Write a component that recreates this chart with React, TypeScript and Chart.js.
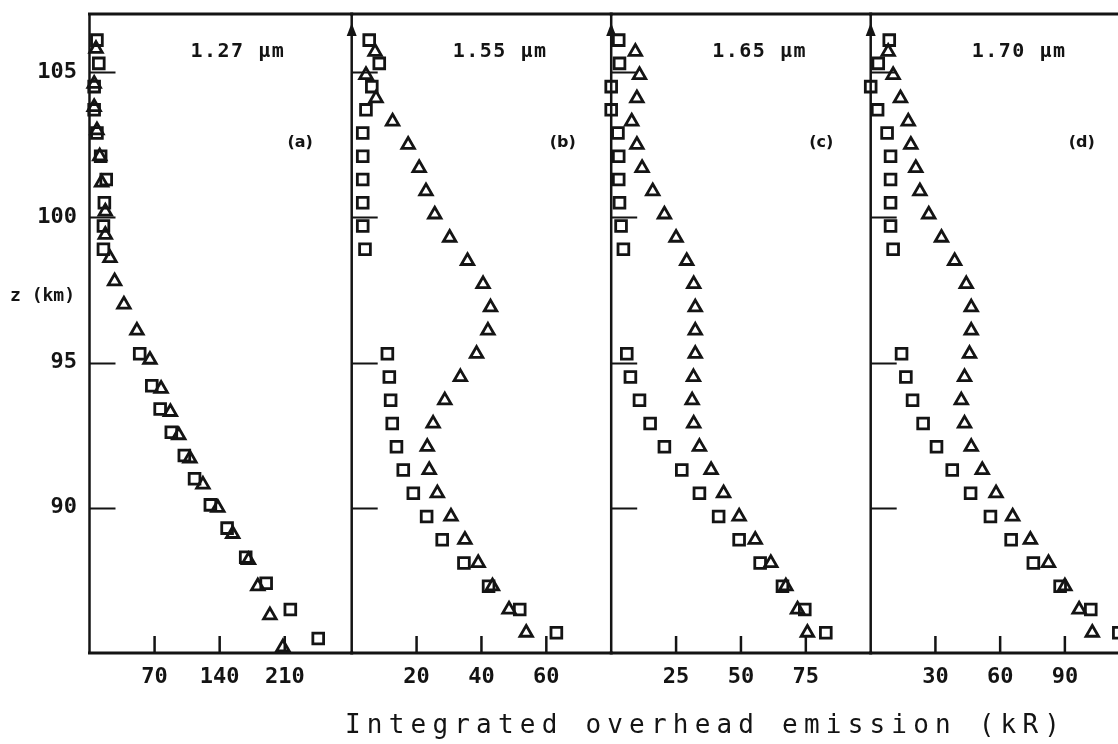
import React, { useEffect, useRef } from 'react';
import { Chart, registerables } from 'chart.js';

Chart.register(...registerables);

// ---------- data ----------
const panelNames = ['1.27 μm', '1.55 μm', '1.65 μm', '1.70 μm'];
const panelTags = ['(a)', '(b)', '(c)', '(d)'];
const yTickValues = [90, 95, 100, 105];
const xTickValuesA = [70, 140, 210];
const xTickValuesB = [20, 40, 60];
const xTickValuesC = [25, 50, 75];
const xTickValuesD = [30, 60, 90];
const xMaxValues = [282, 80, 100, 120];
const axisTitleX = 'Integrated overhead emission (kR)';
const axisTitleY = 'z (km)';

// panel (a) altitudes (km)
const squareAltitudeA = [106.1, 105.3, 104.5, 103.7, 102.9, 102.1, 101.3, 100.5, 99.7, 98.9, 95.3, 94.2, 93.4, 92.6, 91.8, 91.0, 90.1, 89.3, 88.3, 87.4, 86.5, 85.5];
const triangleAltitudeA = [105.8, 104.6, 103.8, 103.0, 102.1, 101.2, 100.2, 99.4, 98.6, 97.8, 97.0, 96.1, 95.1, 94.1, 93.3, 92.5, 91.7, 90.8, 90.0, 89.1, 88.2, 87.3, 86.3, 85.2];
// panels (b)-(d) altitudes (km)
const squareAltitude = [106.1, 105.3, 104.5, 103.7, 102.9, 102.1, 101.3, 100.5, 99.7, 98.9, 95.3, 94.5, 93.7, 92.9, 92.1, 91.3, 90.5, 89.7, 88.9, 88.1, 87.3, 86.5, 85.7];
const triangleAltitude = [105.7, 104.9, 104.1, 103.3, 102.5, 101.7, 100.9, 100.1, 99.3, 98.5, 97.7, 96.9, 96.1, 95.3, 94.5, 93.7, 92.9, 92.1, 91.3, 90.5, 89.7, 88.9, 88.1, 87.3, 86.5, 85.7];

// emission values (kR)
const squareA = [8, 10, 5, 5, 8, 12, 18, 16, 15, 15, 54, 67, 76, 88, 102, 113, 130, 148, 168, 190, 216, 246];
const triangleA = [7, 5, 5, 8, 11, 13, 17, 17, 22, 27, 37, 51, 65, 77, 87, 96, 108, 122, 138, 154, 171, 181, 194, 208];
const squareB = [5.4, 8.5, 6.2, 4.4, 3.4, 3.4, 3.4, 3.4, 3.4, 4.1, 11, 11.6, 12, 12.5, 13.8, 15.9, 19, 23.1, 27.9, 34.6, 42.2, 51.8, 63.1];
const triangleB = [7.2, 4.4, 7.5, 12.6, 17.4, 20.8, 22.9, 25.6, 30.2, 35.7, 40.5, 42.8, 42.0, 38.5, 33.5, 28.7, 25.1, 23.3, 23.9, 26.4, 30.6, 34.9, 39, 43.4, 48.5, 53.8];
const squareC = [2.9, 3.2, 0, 0, 2.6, 2.9, 2.9, 3.2, 3.8, 4.7, 6, 7.4, 10.9, 15, 20.5, 27.2, 34, 41.4, 49.3, 57.4, 66, 74.6, 82.7];
const triangleC = [9.3, 10.9, 9.9, 7.9, 9.9, 11.9, 16, 20.5, 25, 29.1, 31.8, 32.4, 32.4, 32.4, 31.7, 31.2, 31.8, 34, 38.5, 43.3, 49.3, 55.5, 61.5, 67.3, 71.8, 75.6];
const squareD = [8.6, 3.5, 0, 3.2, 7.6, 9.2, 9.2, 9.2, 9.2, 10.4, 14.3, 16.3, 19.4, 24.3, 30.5, 37.8, 46.3, 55.5, 65.1, 75.4, 87.8, 102, 115];
const triangleD = [8.1, 10.4, 13.8, 17.4, 18.6, 20.9, 22.8, 26.9, 32.8, 38.9, 44.3, 46.6, 46.6, 45.8, 43.5, 42, 43.5, 46.6, 51.7, 58.1, 65.8, 74, 82.4, 90, 96.6, 102.7];

const xTickValues = [xTickValuesA, xTickValuesB, xTickValuesC, xTickValuesD];
const squareAltitudes = [squareAltitudeA, squareAltitude, squareAltitude, squareAltitude];
const triangleAltitudes = [triangleAltitudeA, triangleAltitude, triangleAltitude, triangleAltitude];
const squareValues = [squareA, squareB, squareC, squareD];
const triangleValues = [triangleA, triangleB, triangleC, triangleD];

// ---------- layout / style ----------
const CANVAS_W = 1140;
const CANVAS_H = 744;
const PANEL_LEFT = [89.5, 351.7, 611.2, 870.7];
const PANEL_RIGHT = [351.7, 611.2, 870.7, 1130.7];
const INK = '#141414';
const TICK_FONT = { family: '"DejaVu Sans Mono", monospace', size: 22, weight: 'bold' as const };

function makeFramePlugin(i: number) {
  return {
    id: 'frame' + i,
    afterDraw(chart: any) {
      const { ctx, chartArea: a, scales } = chart;
      const xs = scales.x;
      const ys = scales.y;
      ctx.save();
      ctx.strokeStyle = INK;
      ctx.fillStyle = INK;
      ctx.lineCap = 'butt';
      // top border and bottom axis
      ctx.lineWidth = 3;
      ctx.beginPath();
      ctx.moveTo(a.left - 1.5, a.top);
      ctx.lineTo(a.right + 1.5, a.top);
      ctx.moveTo(a.left - 1.5, a.bottom);
      ctx.lineTo(a.right + 1.5, a.bottom);
      ctx.stroke();
      // left axis
      ctx.lineWidth = 2.5;
      ctx.beginPath();
      ctx.moveTo(a.left, a.top);
      ctx.lineTo(a.left, a.bottom);
      ctx.stroke();
      if (i > 0) {
        ctx.beginPath();
        ctx.moveTo(a.left, a.top + 9);
        ctx.lineTo(a.left - 5, a.top + 22);
        ctx.lineTo(a.left + 5, a.top + 22);
        ctx.closePath();
        ctx.fill();
      }
      // inward y ticks
      ctx.lineWidth = 2;
      ctx.beginPath();
      for (const v of yTickValues) {
        const y = Math.round(ys.getPixelForValue(v)) + 0.5;
        ctx.moveTo(a.left, y);
        ctx.lineTo(a.left + 26, y);
      }
      ctx.stroke();
      // inward x ticks
      ctx.lineWidth = 2.5;
      ctx.beginPath();
      for (const v of xTickValues[i]) {
        const x = xs.getPixelForValue(v);
        ctx.moveTo(x, a.bottom);
        ctx.lineTo(x, a.bottom - 17);
      }
      ctx.stroke();
      // panel captions
      ctx.textAlign = 'left';
      ctx.textBaseline = 'alphabetic';
      ctx.font = 'bold 20px "DejaVu Sans Mono", monospace';
      (ctx as any).letterSpacing = '1.5px';
      ctx.fillText(panelNames[i], a.left + 101, a.top + 43);
      (ctx as any).letterSpacing = '0px';
      ctx.font = 'bold 16px "DejaVu Sans", sans-serif';
      ctx.textBaseline = 'middle';
      ctx.fillText(panelTags[i], a.left + 198, 143);
      if (i === 0) {
        ctx.font = 'bold 18px "DejaVu Sans Mono", monospace';
        ctx.textBaseline = 'middle';
        ctx.fillText(axisTitleY, 10, 296);
        ctx.font = '26px "DejaVu Sans Mono", monospace';
        (ctx as any).letterSpacing = '6.2px';
        ctx.textBaseline = 'alphabetic';
        ctx.fillText(axisTitleX, 345, 733);
        (ctx as any).letterSpacing = '0px';
      }
      ctx.restore();
    },
  };
}

function buildConfig(i: number): any {
  const showY = i === 0;
  const pts = (zs: number[], vs: number[]) => zs.map((z, k) => ({ x: vs[k], y: z }));
  return {
    type: 'scatter',
    data: {
      datasets: [
        {
          label: 'squares',
          data: pts(squareAltitudes[i], squareValues[i]),
          pointStyle: 'rect',
          pointRadius: 7.6,
          pointHoverRadius: 7.6,
          borderWidth: 2.8,
          borderColor: INK,
          backgroundColor: 'rgba(255,255,255,0)',
          clip: false,
        },
        {
          label: 'triangles',
          data: pts(triangleAltitudes[i], triangleValues[i]),
          pointStyle: 'triangle',
          pointRadius: 7.2,
          pointHoverRadius: 7.2,
          borderWidth: 2.8,
          borderColor: INK,
          backgroundColor: 'rgba(255,255,255,0)',
          clip: false,
        },
      ],
    },
    options: {
      responsive: false,
      animation: false,
      events: [],
      layout: {
        padding: {
          left: showY ? 0 : PANEL_LEFT[i],
          right: CANVAS_W - PANEL_RIGHT[i],
          top: 14,
          bottom: 0,
        },
      },
      plugins: { legend: { display: false }, tooltip: { enabled: false } },
      scales: {
        x: {
          type: 'linear',
          min: 0,
          max: xMaxValues[i],
          afterFit: (s: any) => {
            s.height = CANVAS_H - 653;
            s.paddingLeft = 0;
            s.paddingRight = 0;
          },
          afterBuildTicks: (s: any) => { s.ticks = xTickValues[i].map((v) => ({ value: v })); },
          grid: { display: false, drawTicks: false },
          border: { display: false },
          ticks: { color: INK, font: TICK_FONT, padding: 11, maxRotation: 0, autoSkip: false },
        },
        y: {
          type: 'linear',
          min: 85,
          max: 107,
          display: showY,
          afterFit: (s: any) => {
            s.width = showY ? PANEL_LEFT[0] : 0;
            s.paddingTop = 0;
            s.paddingBottom = 0;
          },
          afterBuildTicks: (s: any) => { s.ticks = yTickValues.map((v) => ({ value: v })); },
          grid: { display: false, drawTicks: false },
          border: { display: false },
          ticks: { color: INK, font: TICK_FONT, padding: 12.5, autoSkip: false },
        },
      },
    },
    plugins: [makeFramePlugin(i)],
  };
}

export default function App() {
  const refs = [useRef<HTMLCanvasElement>(null), useRef<HTMLCanvasElement>(null), useRef<HTMLCanvasElement>(null), useRef<HTMLCanvasElement>(null)];
  useEffect(() => {
    const charts = refs.map((r, i) => new Chart(r.current as HTMLCanvasElement, buildConfig(i)));
    return () => charts.forEach((c) => c.destroy());
  }, []);
  return (
    <div style={{ position: 'fixed', left: 0, top: 0, width: 1118, height: 744, overflow: 'hidden', background: '#fff' }}>
      {refs.map((r, i) => (
        <canvas
          key={i}
          ref={r}
          width={CANVAS_W}
          height={CANVAS_H}
          style={{ position: 'absolute', left: 0, top: 0, width: CANVAS_W, height: CANVAS_H }}
        />
      ))}
    </div>
  );
}
